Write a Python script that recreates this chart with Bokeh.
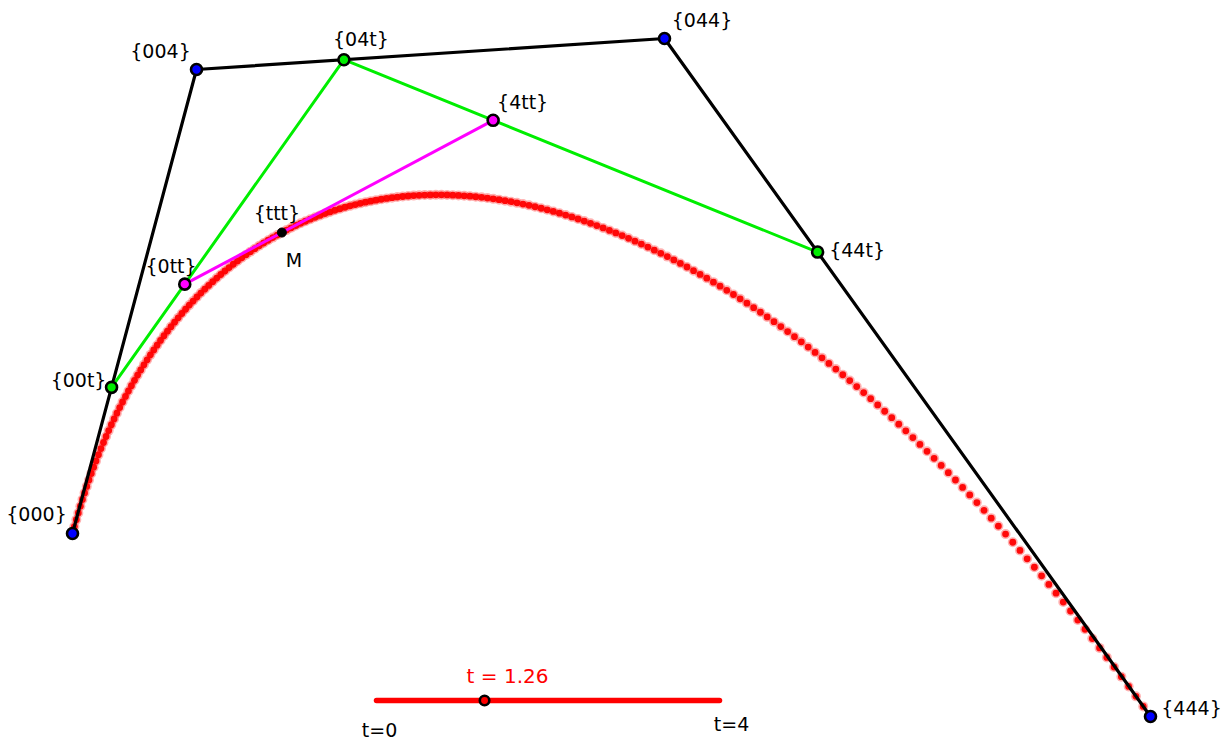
import numpy as np
from bokeh.plotting import figure
from bokeh.models import Range1d
from bokeh.core.properties import value
from bokeh.embed import file_html
from bokeh.resources import INLINE

# ---- data -------------------------------------------------------------
# control points of the cubic Bezier (screen-like coordinates, y downward)
ctrl_x = [72, 196, 664, 1150]
ctrl_y = [533, 69, 38, 716]
ctrl_labels = ["{000}", "{004}", "{044}", "{444}"]
lvl1_labels = ["{00t}", "{04t}", "{44t}"]
lvl2_labels = ["{0tt}", "{4tt}"]
lvl3_labels = ["{ttt}"]
t_value = 1.26
t_min, t_max = 0, 4
n_curve = 201

# ---- de Casteljau construction -----------------------------------------
u = (t_value - t_min) / (t_max - t_min)
P0 = np.column_stack([ctrl_x, ctrl_y]).astype(float)
P1 = P0[:-1] + u * (P0[1:] - P0[:-1])
P2 = P1[:-1] + u * (P1[1:] - P1[:-1])
P3 = P2[:-1] + u * (P2[1:] - P2[:-1])

s = np.linspace(0, 1, n_curve)
bern = np.column_stack([(1 - s) ** 3, 3 * s * (1 - s) ** 2, 3 * s ** 2 * (1 - s), s ** 3])
curve_x = bern @ P0[:, 0]
curve_y = bern @ P0[:, 1]

# ---- figure -------------------------------------------------------------
W, H = 1224, 740
p = figure(width=W, height=H, x_range=Range1d(0, W), y_range=Range1d(H, 0),
           output_backend="svg", toolbar_location=None, min_border=0,
           x_axis_type=None, y_axis_type=None)
p.grid.visible = False
p.outline_line_color = None
p.background_fill_color = "white"
p.border_fill_color = "white"

FONT = value("DejaVu Sans")
SHIFT = -7  # label baseline correction

# fuzzy red curve dots
p.scatter(curve_x, curve_y, size=10, fill_color="#ff0000", fill_alpha=0.3, line_color=None)
p.scatter(curve_x, curve_y, size=6.8, fill_color="#ff0000", fill_alpha=0.95, line_color=None)

# construction polylines
p.line(P0[:, 0], P0[:, 1], line_color="black", line_width=3.2)
p.line(P1[:, 0], P1[:, 1], line_color="#00ee00", line_width=3)
p.line(P2[:, 0], P2[:, 1], line_color="#ff00ff", line_width=3)

# points
p.scatter(P0[:, 0], P0[:, 1], size=11, fill_color="#0000ff", line_color="black", line_width=2.6)
p.scatter(P1[:, 0], P1[:, 1], size=11, fill_color="#00ee00", line_color="black", line_width=2.6)
p.scatter(P2[:, 0], P2[:, 1], size=11, fill_color="#ff00ff", line_color="black", line_width=2.6)
p.scatter(P3[:, 0], P3[:, 1], size=9, fill_color="black", line_color="black", line_width=1)

# labels (offsets from their points)
off0 = [(-36, -13), (-36, -12), (37.5, -12), (41, -2)]
off1 = [(-33, 0), (17, -14), (39.5, 5)]
off2 = [(-13.7, -10.7), (29.5, -11.6)]
off3 = [(-5, -13)]
lx, ly, lt = [], [], []
for pts, labs, offs in [(P0, ctrl_labels, off0), (P1, lvl1_labels, off1),
                        (P2, lvl2_labels, off2), (P3, lvl3_labels, off3)]:
    for (px, py), lab, (dx, dy) in zip(pts, labs, offs):
        lx.append(px + dx)
        ly.append(py + dy + SHIFT)
        lt.append(lab)
lx.append(P3[0, 0] + 12)
ly.append(P3[0, 1] + 34 + SHIFT)
lt.append("M")
p.text(x=lx, y=ly, text=lt, text_align="center", text_baseline="alphabetic",
       text_font=FONT, text_font_size="19px", text_color="black")

# slider
sx0, sx1, sy = 376, 719, 700
knob_x = sx0 + (t_value - t_min) / (t_max - t_min) * (sx1 - sx0)
p.line([sx0, sx1], [sy, sy], line_color="#ff0000", line_width=5.5, line_cap="round")
p.scatter([knob_x], [sy], size=9.5, fill_color="#ff0000", line_color="black", line_width=2.6)
p.text(x=[knob_x + 23], y=[682 + SHIFT], text=[f"t = {t_value:.2f}"], text_align="center",
       text_baseline="alphabetic", text_font=FONT, text_font_size="20px",
       text_color="#ff0000")
p.text(x=[379, 731], y=[736 + SHIFT, 730 + SHIFT], text=[f"t={t_min}", f"t={t_max}"],
       text_align="center", text_baseline="alphabetic", text_font=FONT,
       text_font_size="19px", text_color="black")

open("out.html", "w").write(file_html(p, INLINE))
